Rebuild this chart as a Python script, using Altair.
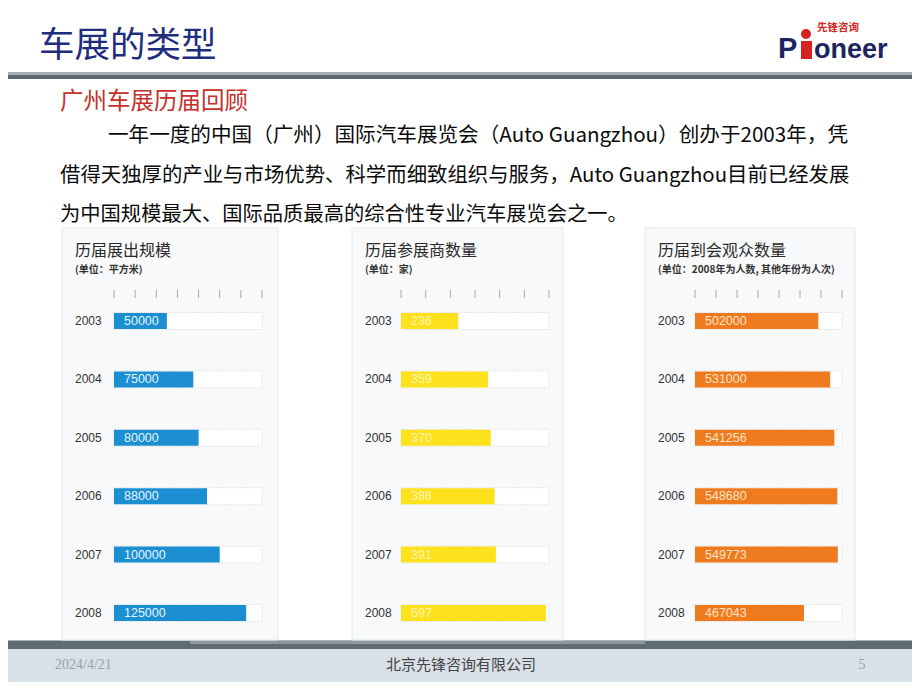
import altair as alt
import numpy as np
import pandas as pd

# ---------------- data ----------------
years = ["2003", "2004", "2005", "2006", "2007", "2008"]
area_sqm = [50000, 75000, 80000, 88000, 100000, 125000]
exhibitors = [236, 359, 370, 386, 391, 597]
visitors = [502000, 531000, 541256, 548680, 549773, 467043]

panel_titles = ["历届展出规模", "历届参展商数量", "历届到会观众数量"]
panel_units = ["(单位：平方米)", "(单位：家)", "(单位：2008年为人数, 其他年份为人次)"]

slide_title = "车展的类型"
section_title = "广州车展历届回顾"
body_lines = [
    "一年一度的中国（广州）国际汽车展览会（Auto Guangzhou）创办于2003年，凭",
    "借得天独厚的产业与市场优势、科学而细致组织与服务，Auto Guangzhou目前已经发展",
    "为中国规模最大、国际品质最高的综合性专业汽车展览会之一。",
]
footer_date = "2024/4/21"
footer_company = "北京先锋咨询有限公司"
footer_page = "5"

OFF = 8  # page margin
CJK = "Noto Sans CJK SC"
LAT = "Liberation Sans"

ONE = alt.Data(values=[{"a": 1}])


def txt(s, x, y, size, color, font=CJK, weight="normal", align="left", baseline="middle"):
    return alt.Chart(ONE).mark_text(
        text=s, font=font, fontSize=size, color=color, fontWeight=weight,
        align=align, baseline=baseline,
    ).encode(x=alt.value(x - OFF), y=alt.value(y - OFF))


def box(x0, x1, y0, y1, fill, stroke=None, sw=0, opacity=1):
    kw = dict(fill=fill, opacity=opacity)
    if stroke:
        kw.update(stroke=stroke, strokeWidth=sw)
    return alt.Chart(ONE).mark_rect(**kw).encode(
        x=alt.value(x0 - OFF), x2=alt.value(x1 - OFF),
        y=alt.value(y0 - OFF), y2=alt.value(y1 - OFF),
    )


def panel(values, color, label_color, domain, nticks, bx0, bx1, px0, px1, title, unit):
    df = pd.DataFrame({"year": years, "value": values})
    xs = alt.Scale(domain=domain, range=[px0 - OFF, px1 - OFF], clamp=True, zero=False, nice=False)
    ys = alt.Scale(type="point", domain=years, range=[321 - OFF, 613 - OFF], padding=0)
    Y = alt.Y("year:O", scale=ys, axis=None)

    bg = box(bx0, bx1, 228, 640, "#f8f9fa", "#e1eaee", 1)
    track = alt.Chart(df).mark_bar(size=17, fill="white", stroke="#e4e4e4",
                                   strokeWidth=1, strokeDash=[2, 1]).encode(
        x=alt.X("value:Q", scale=xs, axis=None), x2=alt.datum(domain[0]), y=Y
    ).transform_calculate(value=str(domain[1]))
    bars = alt.Chart(df).mark_bar(size=16, color=color).encode(
        x=alt.X("value:Q", scale=xs, axis=None), x2=alt.datum(domain[0]), y=Y
    )
    tick_df = pd.DataFrame({"t": np.linspace(domain[0], domain[1], nticks)})
    ticks = alt.Chart(tick_df).mark_rule(color="#a8a8a8", strokeWidth=1).encode(
        x=alt.X("t:Q", scale=xs, axis=None), y=alt.value(290 - OFF), y2=alt.value(298 - OFF)
    )
    ylab = alt.Chart(df).mark_text(align="left", baseline="middle", font=LAT,
                                   fontSize=12, color="#333333").encode(
        x=alt.value(bx0 + 13 - OFF), y=Y, text="year:N"
    )
    vlab = alt.Chart(df).mark_text(align="left", baseline="middle", font=LAT,
                                   fontSize=12.5, color=label_color).encode(
        x=alt.value(px0 + 10 - OFF), y=Y, text="value:Q"
    )
    t1 = txt(title, bx0 + 13, 251, 16, "#2a2a2a")
    t2 = txt(unit, bx0 + 13, 269.5, 10, "#333333", weight="bold")
    return alt.layer(bg, t1, t2, ticks, track, bars, ylab, vlab)


p1 = panel(area_sqm, "#1b8fd2", "#e6f4ff", [0, 140000], 8, 62, 278, 114, 262,
           panel_titles[0], panel_units[0])
p2 = panel(exhibitors, "#fce11c", "#fff6b8", [0, 610], 7, 352, 563, 401, 549,
           panel_titles[1], panel_units[1])
p3 = panel(visitors, "#f07b1f", "#fde3c8", [200000, 560000], 8, 645, 855, 695, 842,
           panel_titles[2], panel_units[2])

decor = [
    # header separator
    box(0, 920, 72, 75, "#a3adb4"),
    box(0, 920, 75, 79, "#5b6870"),
    # footer
    box(0, 920, 649, 700, "#d8e1e7"),
    box(0, 920, 640, 649, "#5f6c74"),
    box(190, 645, 641, 644, "#8e999f"),
    box(0, 920, 640, 641, "#aab4ba"),
    # titles
    txt(slide_title, 39, 46, 35.5, "#1f2d7e"),
    txt(section_title, 60, 102, 23.5, "#c4312a"),
    txt(body_lines[0], 108, 136, 20.6, "#0a0a0a"),
    txt(body_lines[1], 60, 176, 20.4, "#0a0a0a"),
    txt(body_lines[2], 60, 215, 20.3, "#0a0a0a"),
    # logo
    txt("P", 778, 49, 29, "#1d2560", font=LAT, weight="bold"),
    alt.Chart(ONE).mark_point(filled=True, color="#d42420", size=100, opacity=1).encode(
        x=alt.value(806 - OFF), y=alt.value(34 - OFF)),
    box(801, 812, 41, 59, "#d42420"),
    txt("oneer", 814, 50, 27, "#1d2560", font=LAT, weight="bold"),
    txt("先锋咨询", 817, 28, 10.5, "#d42420", weight="bold"),
    # footer text
    txt(footer_date, 55, 665, 14, "#a0a0a0", font="Liberation Serif"),
    txt(footer_company, 461, 665, 15, "#444444", align="center"),
    txt(footer_page, 862, 665, 14, "#a0a0a0", font="Liberation Serif", align="center"),
]

chart = alt.layer(*decor, p1, p2, p3).resolve_scale(
    x="independent", y="independent"
).properties(
    width=904, height=674, autosize=alt.AutoSizeParams(type="none"), padding=0,
    background="white",
).configure_view(stroke=None)

chart.save("out.html", embed_options={"renderer": "svg", "actions": False})
